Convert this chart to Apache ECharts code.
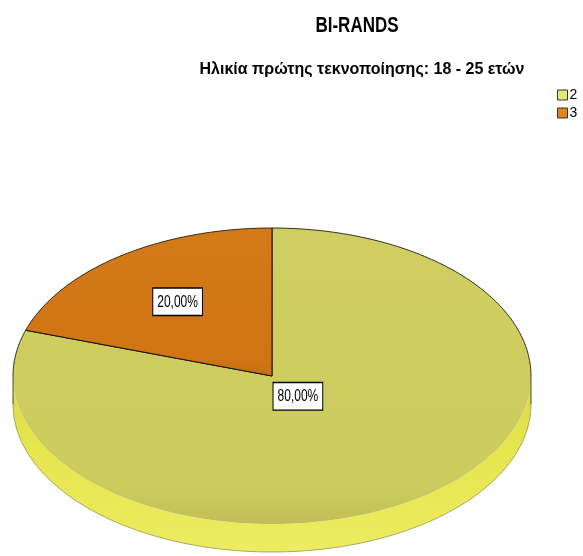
<!DOCTYPE html>
<html>
<head>
<meta charset="utf-8">
<style>
  html, body { margin: 0; padding: 0; background: #ffffff; }
  #chart { width: 583px; height: 556px; }
</style>
<script src="https://cdn.jsdelivr.net/npm/echarts@6/dist/echarts.min.js"></script>
</head>
<body>
<div id="chart"></div>
<script>
// Chart data
const chartTitle = 'BI-RANDS';
const chartSubtitle = 'Ηλικία πρώτης τεκνοποίησης: 18 - 25 ετών';
const categories = ['2', '3'];
const values = [80, 20];

// Styling (per category)
const legendColors = ['#e6ea6c', '#e2851c'];
const faceColors = [
  ['#d0ce62', '#cccb5d', '#c0be55'],
  ['#d47a18', '#d07414', '#c86e12']
];
const rimColors = ['#e4e44c', '#c86e12'];
const labelRadius = [0.17, 0.62];

// Ellipse layout of the tilted pie
const PIE = { cx: 272, cy: 376, rx: 259, ry: 148, depth: 28 };

const total = values.reduce((a, b) => a + b, 0);

function pt(deg, dy) {
  const r = deg * Math.PI / 180;
  return [PIE.cx + PIE.rx * Math.cos(r), PIE.cy - PIE.ry * Math.sin(r) + (dy || 0)];
}

function arcAngles(a0, a1) {
  // clockwise: angle decreases from a0 to a1
  const out = [];
  const n = Math.max(2, Math.ceil(Math.abs(a0 - a1)));
  for (let k = 0; k <= n; k++) out.push(a0 + (a1 - a0) * k / n);
  return out;
}

function isBack(a) {
  return Math.sin(a * Math.PI / 180) > -1e-9;
}

function renderSlice(i, api) {
  const v = api.value(0);
  let before = 0;
  for (let k = 0; k < i; k++) before += values[k];
  const a0 = 90 - 360 * before / total;
  const a1 = a0 - 360 * v / total;
  const angles = arcAngles(a0, a1);
  const children = [];

  // front side wall (visible where the arc lies in the lower half)
  for (let s = -1; s <= 1; s++) {
    const lo = Math.max(a1, -180 + 360 * s);
    const hi = Math.min(a0, 360 * s);
    if (hi > lo) {
      const seg = arcAngles(hi, lo);
      const pts = seg.map(a => pt(a, 0)).concat(seg.slice().reverse().map(a => pt(a, PIE.depth)));
      children.push({
        type: 'polygon',
        shape: { points: pts },
        style: {
          fill: {
            type: 'linear', x: 0, y: 0, x2: 0, y2: 1,
            colorStops: [
              { offset: 0, color: '#d8d84c' },
              { offset: 0.35, color: rimColors[i] },
              { offset: 1, color: '#ecec62' }
            ]
          }
        }
      });
      // soft lower edge of the wall
      children.push({
        type: 'polyline',
        shape: { points: seg.map(a => pt(a, PIE.depth)) },
        style: { stroke: 'rgba(110,110,40,0.55)', lineWidth: 1, fill: null }
      });
    }
  }

  // top face
  const facePts = [[PIE.cx, PIE.cy]].concat(angles.map(a => pt(a, 0)));
  children.push({
    type: 'polygon',
    shape: { points: facePts },
    style: {
      fill: {
        type: 'linear', x: 0, y: 0, x2: 0, y2: 1,
        colorStops: [
          { offset: 0, color: faceColors[i][0] },
          { offset: 0.88, color: faceColors[i][1] },
          { offset: 1, color: faceColors[i][2] }
        ]
      }
    }
  });

  // back rim outline of the top face, split into continuous runs
  let run = [];
  const runs = [];
  angles.forEach(a => {
    if (isBack(a)) run.push(pt(a, 0));
    else if (run.length) { runs.push(run); run = []; }
  });
  if (run.length) runs.push(run);
  runs.forEach(r => {
    if (r.length > 1) {
      children.push({
        type: 'polyline',
        shape: { points: r },
        style: { stroke: 'rgba(30,30,20,0.9)', lineWidth: 1, fill: null }
      });
    }
  });
  // vertical edges at the widest points
  [0, 180, -180].forEach(a => {
    if (a <= a0 && a >= a1) {
      children.push({
        type: 'line',
        shape: { x1: pt(a, 0)[0], y1: pt(a, 0)[1], x2: pt(a, PIE.depth)[0], y2: pt(a, PIE.depth)[1] },
        style: { stroke: 'rgba(30,30,20,0.8)', lineWidth: 1 }
      });
    }
  });

  // radial edges
  children.push({
    type: 'polyline',
    shape: { points: [pt(a0, 0), [PIE.cx, PIE.cy], pt(a1, 0)] },
    style: { stroke: '#111', lineWidth: 1, fill: null }
  });

  // value label
  const mid = (a0 + a1) / 2 * Math.PI / 180;
  const f = labelRadius[i];
  const lx = PIE.cx + PIE.rx * f * Math.cos(mid);
  const ly = PIE.cy - PIE.ry * f * Math.sin(mid);
  const pct = (v / total * 100).toFixed(2).replace('.', ',') + '%';
  children.push({
    type: 'text',
    x: lx, y: ly,
    scaleY: 1.45,
    style: {
      text: pct,
      font: '12px "Liberation Sans", Arial, sans-serif',
      fill: '#000',
      align: 'center',
      verticalAlign: 'middle',
      lineHeight: 12,
      backgroundColor: '#ffffff',
      borderColor: '#000',
      borderWidth: 1,
      padding: [3, 4]
    }
  });

  return { type: 'group', children };
}

const chart = echarts.init(document.getElementById('chart'), null, { renderer: 'canvas' });
chart.setOption({
  backgroundColor: '#ffffff',
  animation: false,
  graphic: [
    {
      type: 'text', x: 357, y: 26, scaleY: 1.3,
      style: {
        text: chartTitle,
        font: 'bold 17px "Liberation Sans", Arial, sans-serif',
        fill: '#000', align: 'center', verticalAlign: 'middle'
      }
    },
    {
      type: 'text', x: 362, y: 69, scaleY: 1.08,
      style: {
        text: chartSubtitle,
        font: 'bold 16px "Liberation Sans", Arial, sans-serif',
        fill: '#000', align: 'center', verticalAlign: 'middle'
      }
    }
  ],
  legend: {
    orient: 'vertical',
    left: 557, top: 88,
    padding: 0,
    itemWidth: 10, itemHeight: 10, itemGap: 4,
    icon: 'rect',
    itemStyle: { borderColor: '#333', borderWidth: 1 },
    textStyle: { fontSize: 14, color: '#000', padding: [0, 0, 0, -3], fontFamily: '"Liberation Sans", Arial, sans-serif' },
    selectedMode: false,
    data: categories
  },
  series: categories.map((name, i) => ({
    type: 'custom',
    name: name,
    coordinateSystem: 'none',
    itemStyle: { color: legendColors[i] },
    data: [values[i]],
    renderItem: (params, api) => renderSlice(i, api)
  }))
});
</script>
</body>
</html>
